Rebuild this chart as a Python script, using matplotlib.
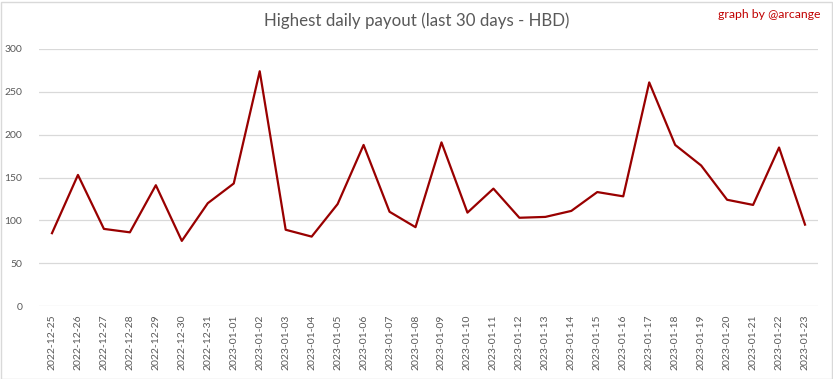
import matplotlib
matplotlib.use("Agg")
import matplotlib.pyplot as plt
from matplotlib.patches import Rectangle

dates = ["2022-12-25", "2022-12-26", "2022-12-27", "2022-12-28", "2022-12-29",
         "2022-12-30", "2022-12-31", "2023-01-01", "2023-01-02", "2023-01-03",
         "2023-01-04", "2023-01-05", "2023-01-06", "2023-01-07", "2023-01-08",
         "2023-01-09", "2023-01-10", "2023-01-11", "2023-01-12", "2023-01-13",
         "2023-01-14", "2023-01-15", "2023-01-16", "2023-01-17", "2023-01-18",
         "2023-01-19", "2023-01-20", "2023-01-21", "2023-01-22", "2023-01-23"]
payout = [85, 153, 90, 86, 141, 76, 120, 143, 274, 89,
          81, 119, 188, 110, 92, 191, 109, 137, 103, 104,
          111, 133, 128, 261, 188, 164, 124, 118, 185, 95]

plt.rcParams['font.family'] = ['Lato', 'DejaVu Sans']

fig = plt.figure(figsize=(8.33, 3.79), dpi=100)
ax = fig.add_axes([39 / 833, 1 - 306 / 379, (818 - 39) / 833, (306 - 49) / 379])

x = list(range(len(dates)))
ax.plot(x, payout, color='#990000', linewidth=1.6)

ax.set_xlim(-0.5, len(dates) - 0.5)
ax.set_ylim(0, 300)
ax.set_yticks(range(0, 301, 50))
ax.set_xticks(x)
ax.set_xticklabels(dates, rotation=90)
ax.grid(axis='y', color='#d9d9d9', linewidth=0.9)
ax.set_axisbelow(True)
for s in ax.spines.values():
    s.set_visible(False)
ax.tick_params(axis='both', length=0, colors='#595959', labelsize=7.5)
ax.tick_params(axis='x', pad=6)
ax.tick_params(axis='y', pad=12)

fig.text(0.5, 1 - 21 / 379, "Highest daily payout (last 30 days - HBD)",
         ha='center', va='center', fontsize=12.2, color='#595959')
fig.text(821 / 833, 1 - 15 / 379, "graph by @arcange",
         ha='right', va='center', fontsize=8.8, color='#c00000')

fig.patches.append(Rectangle((0.5 / 833, 0.5 / 379), 831 / 833, 377 / 379,
                             transform=fig.transFigure, fill=False,
                             edgecolor='#d9d9d9', linewidth=1))

fig.savefig("out.png", dpi=100)
